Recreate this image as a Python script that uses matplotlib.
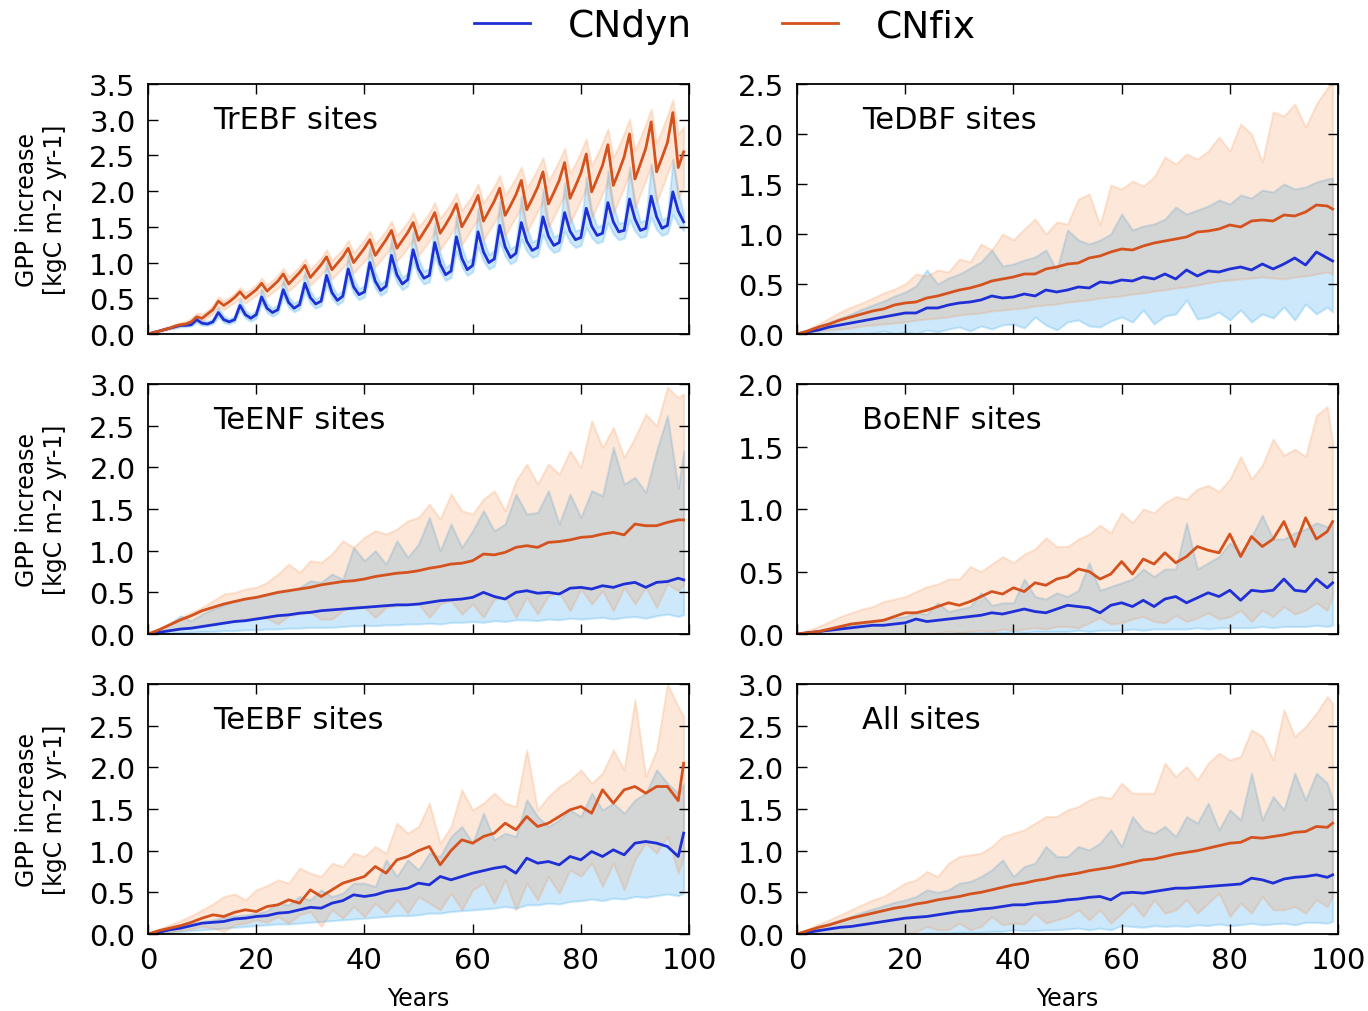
import matplotlib
matplotlib.use("Agg")
import matplotlib.pyplot as plt
from matplotlib.ticker import MultipleLocator, FormatStrFormatter

# ── Years ──────────────────────────────────────────────────────────────────────
yrs_1 = list(range(0, 100))                  # TrEBF (yearly, saw-tooth)
yrs_2 = list(range(0, 100, 2)) + [99]        # other panels, every 2nd year

# ── TrEBF ─────────────────────────────────────────────────────────────────────
tre_fix = [0.00, 0.02, 0.04, 0.06, 0.08, 0.11, 0.13, 0.14, 0.17, 0.24,
           0.22, 0.28, 0.34, 0.46, 0.40, 0.45, 0.51, 0.59, 0.50, 0.56,
           0.62, 0.71, 0.60, 0.67, 0.74, 0.84, 0.70, 0.78, 0.86, 0.96,
           0.79, 0.88, 0.97, 1.08, 0.90, 0.99, 1.08, 1.20, 1.00, 1.10,
           1.20, 1.32, 1.10, 1.21, 1.32, 1.45, 1.20, 1.31, 1.42, 1.56,
           1.31, 1.43, 1.55, 1.70, 1.41, 1.53, 1.66, 1.82, 1.50, 1.63,
           1.77, 1.94, 1.58, 1.72, 1.86, 2.04, 1.66, 1.80, 1.95, 2.15,
           1.74, 1.89, 2.05, 2.27, 1.82, 1.98, 2.15, 2.40, 1.90, 2.07,
           2.25, 2.52, 1.99, 2.17, 2.36, 2.65, 2.08, 2.27, 2.48, 2.80,
           2.17, 2.38, 2.60, 2.97, 2.27, 2.47, 2.68, 3.10, 2.33, 2.55]
tre_fix_hi = [0.00, 0.03, 0.06, 0.09, 0.11, 0.14, 0.16, 0.18, 0.22, 0.29,
              0.28, 0.33, 0.40, 0.52, 0.47, 0.51, 0.57, 0.65, 0.58, 0.63,
              0.69, 0.78, 0.69, 0.75, 0.82, 0.92, 0.80, 0.87, 0.95, 1.05,
              0.91, 0.98, 1.07, 1.18, 1.03, 1.11, 1.19, 1.31, 1.14, 1.23,
              1.32, 1.44, 1.26, 1.35, 1.45, 1.58, 1.38, 1.47, 1.57, 1.70,
              1.50, 1.59, 1.70, 1.84, 1.62, 1.72, 1.83, 1.97, 1.73, 1.84,
              1.95, 2.10, 1.84, 1.95, 2.07, 2.22, 1.95, 2.06, 2.19, 2.34,
              2.05, 2.17, 2.31, 2.47, 2.15, 2.28, 2.43, 2.60, 2.25, 2.39,
              2.55, 2.73, 2.36, 2.51, 2.68, 2.87, 2.47, 2.63, 2.81, 3.01,
              2.58, 2.75, 2.94, 3.15, 2.68, 2.86, 3.06, 3.28, 2.80, 2.90]
tre_fix_lo = [0.00, 0.01, 0.03, 0.05, 0.07, 0.09, 0.11, 0.12, 0.14, 0.19,
              0.18, 0.23, 0.28, 0.38, 0.34, 0.39, 0.44, 0.50, 0.43, 0.49,
              0.54, 0.61, 0.52, 0.58, 0.64, 0.72, 0.60, 0.67, 0.74, 0.82,
              0.68, 0.76, 0.83, 0.92, 0.77, 0.85, 0.93, 1.02, 0.85, 0.94,
              1.02, 1.12, 0.94, 1.03, 1.12, 1.23, 1.02, 1.11, 1.21, 1.32,
              1.10, 1.20, 1.30, 1.43, 1.18, 1.29, 1.40, 1.53, 1.25, 1.37,
              1.49, 1.62, 1.31, 1.44, 1.56, 1.70, 1.37, 1.51, 1.64, 1.78,
              1.43, 1.57, 1.71, 1.86, 1.49, 1.64, 1.79, 1.95, 1.55, 1.71,
              1.87, 2.04, 1.62, 1.79, 1.96, 2.14, 1.69, 1.87, 2.05, 2.25,
              1.76, 1.96, 2.15, 2.36, 1.84, 2.04, 2.24, 2.45, 1.90, 2.05]
tre_dyn = [0.00, 0.02, 0.04, 0.06, 0.08, 0.10, 0.12, 0.12, 0.13, 0.20,
           0.15, 0.14, 0.17, 0.30, 0.20, 0.17, 0.20, 0.40, 0.27, 0.22,
           0.27, 0.52, 0.36, 0.30, 0.34, 0.62, 0.44, 0.36, 0.41, 0.71,
           0.51, 0.42, 0.46, 0.82, 0.58, 0.47, 0.53, 0.91, 0.66, 0.55,
           0.59, 1.00, 0.74, 0.61, 0.67, 1.10, 0.83, 0.70, 0.76, 1.18,
           0.91, 0.78, 0.82, 1.28, 0.98, 0.83, 0.88, 1.36, 1.06, 0.90,
           0.96, 1.43, 1.15, 1.00, 1.05, 1.52, 1.22, 1.07, 1.13, 1.56,
           1.30, 1.17, 1.21, 1.64, 1.37, 1.24, 1.28, 1.70, 1.44, 1.32,
           1.35, 1.76, 1.51, 1.38, 1.41, 1.84, 1.57, 1.43, 1.45, 1.89,
           1.61, 1.45, 1.48, 1.93, 1.64, 1.48, 1.52, 1.99, 1.72, 1.57]
tre_dyn_hi = [0.00, 0.03, 0.05, 0.07, 0.10, 0.12, 0.14, 0.15, 0.16, 0.25,
              0.19, 0.18, 0.21, 0.37, 0.25, 0.21, 0.25, 0.49, 0.33, 0.27,
              0.33, 0.63, 0.43, 0.36, 0.41, 0.76, 0.52, 0.43, 0.48, 0.87,
              0.60, 0.49, 0.54, 1.00, 0.68, 0.55, 0.61, 1.11, 0.77, 0.63,
              0.68, 1.22, 0.86, 0.70, 0.76, 1.34, 0.96, 0.79, 0.86, 1.44,
              1.05, 0.88, 0.92, 1.56, 1.13, 0.93, 0.99, 1.66, 1.22, 1.01,
              1.07, 1.76, 1.32, 1.11, 1.17, 1.86, 1.40, 1.19, 1.25, 1.93,
              1.49, 1.29, 1.33, 2.03, 1.57, 1.36, 1.40, 2.12, 1.65, 1.44,
              1.47, 2.20, 1.73, 1.50, 1.53, 2.29, 1.80, 1.55, 1.57, 2.34,
              1.85, 1.57, 1.60, 2.38, 1.89, 1.60, 1.64, 2.44, 1.98, 1.68]
tre_dyn_lo = [0.00, 0.01, 0.03, 0.05, 0.07, 0.08, 0.10, 0.10, 0.11, 0.16,
              0.12, 0.12, 0.14, 0.24, 0.16, 0.14, 0.17, 0.33, 0.22, 0.18,
              0.22, 0.43, 0.30, 0.25, 0.29, 0.52, 0.37, 0.31, 0.35, 0.59,
              0.43, 0.36, 0.40, 0.69, 0.50, 0.41, 0.46, 0.77, 0.57, 0.48,
              0.52, 0.85, 0.64, 0.54, 0.59, 0.93, 0.72, 0.62, 0.67, 1.01,
              0.80, 0.70, 0.73, 1.09, 0.87, 0.75, 0.79, 1.16, 0.94, 0.82,
              0.87, 1.22, 1.02, 0.91, 0.95, 1.29, 1.09, 0.98, 1.03, 1.33,
              1.16, 1.07, 1.10, 1.39, 1.22, 1.14, 1.17, 1.44, 1.29, 1.21,
              1.24, 1.49, 1.35, 1.27, 1.30, 1.56, 1.40, 1.32, 1.34, 1.60,
              1.44, 1.35, 1.37, 1.63, 1.46, 1.38, 1.41, 1.67, 1.53, 1.45]

# ── TeDBF ─────────────────────────────────────────────────────────────────────
tedbf_fix = [0.00, 0.03, 0.07, 0.10, 0.14, 0.17, 0.20, 0.23, 0.25, 0.29,
             0.31, 0.32, 0.36, 0.38, 0.41, 0.44, 0.46, 0.49, 0.53, 0.55,
             0.57, 0.60, 0.60, 0.65, 0.67, 0.70, 0.71, 0.76, 0.78, 0.82,
             0.85, 0.84, 0.88, 0.91, 0.93, 0.95, 0.97, 1.02, 1.03, 1.05,
             1.09, 1.07, 1.13, 1.14, 1.13, 1.19, 1.18, 1.22, 1.29, 1.28, 1.25]
tedbf_fix_hi = [0.00, 0.05, 0.10, 0.16, 0.22, 0.27, 0.31, 0.36, 0.41, 0.45,
                0.50, 0.60, 0.58, 0.64, 0.62, 0.75, 0.72, 0.90, 0.84, 1.00,
                0.94, 1.05, 1.15, 1.00, 1.12, 1.10, 1.35, 1.40, 1.09, 1.49,
                1.45, 1.53, 1.48, 1.57, 1.77, 1.70, 1.80, 1.75, 1.83, 1.97,
                1.83, 2.10, 2.00, 1.72, 2.22, 2.18, 2.30, 2.07, 2.30, 2.46, 2.52]
tedbf_fix_lo = [0.00, 0.01, 0.03, 0.04, 0.05, 0.06, 0.08, 0.09, 0.10, 0.11,
                0.12, 0.14, 0.15, 0.16, 0.17, 0.19, 0.20, 0.21, 0.23, 0.24,
                0.25, 0.26, 0.28, 0.29, 0.30, 0.32, 0.33, 0.34, 0.36, 0.37,
                0.38, 0.40, 0.41, 0.43, 0.44, 0.46, 0.47, 0.49, 0.51, 0.53,
                0.54, 0.55, 0.56, 0.57, 0.56, 0.55, 0.57, 0.58, 0.60, 0.62, 0.60]
tedbf_dyn = [0.00, 0.02, 0.04, 0.07, 0.09, 0.11, 0.13, 0.15, 0.17, 0.19,
             0.21, 0.21, 0.26, 0.26, 0.29, 0.31, 0.32, 0.34, 0.38, 0.36,
             0.37, 0.40, 0.38, 0.44, 0.42, 0.44, 0.47, 0.46, 0.52, 0.51,
             0.54, 0.53, 0.57, 0.55, 0.60, 0.55, 0.64, 0.58, 0.63, 0.62,
             0.65, 0.67, 0.64, 0.70, 0.65, 0.70, 0.76, 0.69, 0.82, 0.76, 0.73]
tedbf_dyn_hi = [0.00, 0.04, 0.08, 0.12, 0.16, 0.20, 0.25, 0.29, 0.33, 0.38,
                0.42, 0.48, 0.64, 0.50, 0.56, 0.60, 0.66, 0.72, 0.84, 0.68,
                0.70, 0.74, 0.77, 0.84, 0.64, 1.04, 0.94, 0.90, 0.94, 1.00,
                1.20, 1.04, 1.08, 1.10, 1.15, 1.27, 1.20, 1.24, 1.28, 1.34,
                1.30, 1.39, 1.36, 1.44, 1.42, 1.50, 1.45, 1.47, 1.52, 1.55, 1.56]
tedbf_dyn_lo = [0.00, 0.00, 0.00, 0.00, 0.00, 0.00, 0.00, 0.01, 0.03, 0.00,
                0.02, 0.00, 0.04, 0.02, 0.05, 0.07, 0.03, 0.08, 0.05, 0.09,
                0.10, 0.06, 0.17, 0.09, 0.04, 0.12, 0.14, 0.08, 0.07, 0.13,
                0.17, 0.12, 0.24, 0.10, 0.18, 0.20, 0.34, 0.15, 0.17, 0.22,
                0.14, 0.24, 0.12, 0.20, 0.16, 0.27, 0.14, 0.30, 0.20, 0.27, 0.22]

# ── TeENF ─────────────────────────────────────────────────────────────────────
teenf_fix = [0.00, 0.05, 0.11, 0.17, 0.22, 0.28, 0.32, 0.36, 0.39, 0.42,
             0.44, 0.47, 0.50, 0.52, 0.54, 0.56, 0.59, 0.61, 0.63, 0.64,
             0.66, 0.69, 0.71, 0.73, 0.74, 0.76, 0.79, 0.81, 0.84, 0.85,
             0.88, 0.96, 0.95, 0.98, 1.04, 1.06, 1.04, 1.10, 1.11, 1.13,
             1.16, 1.17, 1.20, 1.22, 1.19, 1.32, 1.30, 1.30, 1.34, 1.37, 1.37]
teenf_fix_hi = [0.00, 0.06, 0.13, 0.20, 0.26, 0.32, 0.40, 0.48, 0.50, 0.54,
                0.56, 0.62, 0.72, 0.84, 0.74, 0.88, 0.86, 0.96, 1.12, 1.04,
                1.16, 1.24, 1.20, 1.26, 1.36, 1.40, 1.56, 1.38, 1.68, 1.48,
                1.44, 1.62, 1.72, 1.48, 1.84, 2.04, 1.80, 2.04, 1.92, 2.20,
                2.00, 2.56, 2.24, 2.48, 2.12, 2.36, 2.64, 2.50, 2.96, 2.84, 2.88]
teenf_fix_lo = [0.00, 0.02, 0.04, 0.06, 0.08, 0.10, 0.12, 0.13, 0.16, 0.18,
                0.20, 0.19, 0.12, 0.22, 0.24, 0.26, 0.18, 0.18, 0.28, 0.33,
                0.32, 0.20, 0.32, 0.34, 0.36, 0.36, 0.20, 0.36, 0.40, 0.24,
                0.36, 0.20, 0.42, 0.44, 0.20, 0.44, 0.24, 0.46, 0.50, 0.28,
                0.54, 0.36, 0.52, 0.28, 0.56, 0.36, 0.56, 0.32, 0.60, 0.52, 0.60]
teenf_dyn = [0.00, 0.02, 0.04, 0.06, 0.07, 0.09, 0.11, 0.13, 0.15, 0.16,
             0.18, 0.20, 0.22, 0.23, 0.25, 0.26, 0.28, 0.29, 0.30, 0.31,
             0.32, 0.33, 0.34, 0.35, 0.35, 0.36, 0.38, 0.40, 0.41, 0.42,
             0.44, 0.50, 0.45, 0.42, 0.50, 0.52, 0.49, 0.50, 0.48, 0.55,
             0.56, 0.54, 0.58, 0.56, 0.60, 0.62, 0.56, 0.62, 0.63, 0.67, 0.65]
teenf_dyn_hi = [0.00, 0.05, 0.12, 0.22, 0.16, 0.24, 0.30, 0.35, 0.40, 0.42,
                0.44, 0.47, 0.50, 0.52, 0.56, 0.64, 0.62, 0.72, 0.66, 1.04,
                0.88, 1.00, 0.84, 1.12, 0.92, 1.08, 1.40, 1.00, 1.32, 1.04,
                1.24, 1.48, 1.24, 1.32, 1.68, 1.44, 1.46, 1.72, 1.32, 1.68,
                1.40, 1.72, 1.66, 2.24, 1.80, 1.88, 1.70, 2.20, 2.62, 1.75, 2.20]
teenf_dyn_lo = [0.00, 0.01, 0.01, 0.02, 0.02, 0.03, 0.03, 0.04, 0.04, 0.05,
                0.05, 0.06, 0.06, 0.07, 0.07, 0.08, 0.08, 0.08, 0.09, 0.10,
                0.10, 0.10, 0.11, 0.11, 0.12, 0.12, 0.13, 0.12, 0.14, 0.14,
                0.15, 0.14, 0.16, 0.15, 0.17, 0.17, 0.16, 0.18, 0.17, 0.19,
                0.18, 0.19, 0.20, 0.18, 0.20, 0.21, 0.19, 0.22, 0.24, 0.21, 0.23]

# ── BoENF ─────────────────────────────────────────────────────────────────────
boenf_fix = [0.00, 0.01, 0.02, 0.04, 0.06, 0.08, 0.09, 0.10, 0.11, 0.14,
             0.17, 0.17, 0.19, 0.22, 0.25, 0.23, 0.26, 0.30, 0.34, 0.32,
             0.37, 0.34, 0.41, 0.39, 0.44, 0.46, 0.52, 0.50, 0.44, 0.48,
             0.58, 0.48, 0.60, 0.56, 0.65, 0.57, 0.62, 0.70, 0.67, 0.65,
             0.80, 0.62, 0.78, 0.70, 0.76, 0.90, 0.70, 0.93, 0.76, 0.82, 0.90]
boenf_fix_hi = [0.00, 0.03, 0.06, 0.10, 0.14, 0.17, 0.20, 0.22, 0.26, 0.28,
                0.30, 0.34, 0.38, 0.40, 0.44, 0.44, 0.54, 0.50, 0.56, 0.62,
                0.57, 0.64, 0.68, 0.77, 0.70, 0.70, 0.76, 0.80, 0.87, 0.81,
                0.97, 0.89, 1.00, 0.97, 1.05, 1.10, 1.08, 1.16, 1.19, 1.14,
                1.24, 1.42, 1.24, 1.35, 1.56, 1.43, 1.48, 1.42, 1.75, 1.82, 1.54]
boenf_fix_lo = [0.00, 0.00, 0.00, 0.00, 0.00, 0.00, 0.00, 0.00, 0.00, 0.00,
                0.00, 0.01, 0.00, 0.01, 0.02, 0.01, 0.02, 0.03, 0.02, 0.04,
                0.03, 0.04, 0.05, 0.04, 0.06, 0.06, 0.05, 0.09, 0.13, 0.08,
                0.09, 0.12, 0.14, 0.10, 0.09, 0.15, 0.10, 0.13, 0.17, 0.12,
                0.14, 0.19, 0.10, 0.19, 0.14, 0.22, 0.16, 0.19, 0.25, 0.19, 0.30]
boenf_dyn = [0.00, 0.01, 0.02, 0.03, 0.04, 0.05, 0.06, 0.07, 0.07, 0.08,
             0.09, 0.12, 0.10, 0.11, 0.12, 0.13, 0.14, 0.15, 0.17, 0.16,
             0.18, 0.20, 0.18, 0.17, 0.20, 0.23, 0.22, 0.21, 0.17, 0.23,
             0.25, 0.22, 0.27, 0.22, 0.28, 0.30, 0.25, 0.29, 0.33, 0.30,
             0.35, 0.27, 0.35, 0.34, 0.35, 0.44, 0.35, 0.34, 0.44, 0.37, 0.41]
boenf_dyn_hi = [0.00, 0.01, 0.02, 0.04, 0.05, 0.07, 0.09, 0.10, 0.12, 0.13,
                0.14, 0.17, 0.16, 0.25, 0.18, 0.20, 0.22, 0.33, 0.23, 0.25,
                0.25, 0.44, 0.30, 0.28, 0.33, 0.30, 0.35, 0.57, 0.35, 0.38,
                0.41, 0.44, 0.52, 0.46, 0.52, 0.52, 0.89, 0.52, 0.57, 0.62,
                0.73, 0.65, 0.78, 0.95, 0.76, 0.76, 0.81, 0.84, 0.89, 0.86, 0.89]
boenf_dyn_lo = [0.00, 0.00, 0.00, 0.00, 0.00, 0.00, 0.00, 0.00, 0.00, 0.00,
                0.00, 0.00, 0.00, 0.00, 0.00, 0.01, 0.01, 0.01, 0.01, 0.01,
                0.02, 0.01, 0.02, 0.02, 0.02, 0.02, 0.03, 0.02, 0.03, 0.03,
                0.03, 0.04, 0.03, 0.04, 0.04, 0.04, 0.04, 0.05, 0.04, 0.05,
                0.05, 0.05, 0.05, 0.06, 0.05, 0.06, 0.06, 0.06, 0.07, 0.06, 0.07]

# ── TeEBF ─────────────────────────────────────────────────────────────────────
teebf_fix = [0.00, 0.04, 0.07, 0.10, 0.14, 0.19, 0.23, 0.21, 0.26, 0.29,
             0.27, 0.33, 0.35, 0.41, 0.37, 0.53, 0.45, 0.53, 0.61, 0.65,
             0.69, 0.81, 0.73, 0.89, 0.93, 1.00, 1.05, 0.83, 1.00, 1.13,
             1.09, 1.17, 1.21, 1.33, 1.25, 1.41, 1.29, 1.33, 1.41, 1.49,
             1.53, 1.45, 1.73, 1.57, 1.73, 1.77, 1.69, 1.77, 1.77, 1.60, 2.05]
teebf_fix_hi = [0.00, 0.06, 0.11, 0.16, 0.22, 0.29, 0.36, 0.45, 0.48, 0.41,
                0.53, 0.58, 0.65, 0.61, 0.79, 0.73, 0.69, 0.85, 0.81, 0.97,
                0.93, 1.05, 0.97, 1.33, 1.21, 1.29, 1.57, 1.09, 1.29, 1.73,
                1.49, 1.57, 1.69, 1.57, 1.53, 2.21, 1.49, 1.65, 1.77, 1.85,
                1.97, 1.81, 1.93, 2.21, 1.97, 2.81, 1.89, 2.21, 3.00, 2.73, 2.61]
teebf_fix_lo = [0.00, 0.01, 0.02, 0.04, 0.06, 0.09, 0.07, 0.03, 0.11, 0.13,
                0.17, 0.14, 0.21, 0.13, 0.23, 0.27, 0.09, 0.29, 0.19, 0.33,
                0.21, 0.37, 0.25, 0.41, 0.25, 0.45, 0.37, 0.29, 0.49, 0.29,
                0.53, 0.61, 0.37, 0.65, 0.29, 0.61, 0.41, 0.69, 0.49, 0.77,
                0.69, 0.85, 0.57, 0.85, 0.53, 0.89, 1.09, 0.97, 1.17, 0.73, 0.93]
teebf_dyn = [0.00, 0.02, 0.05, 0.07, 0.10, 0.13, 0.14, 0.15, 0.18, 0.19,
             0.21, 0.22, 0.25, 0.26, 0.29, 0.32, 0.31, 0.37, 0.40, 0.47,
             0.45, 0.47, 0.51, 0.53, 0.55, 0.61, 0.59, 0.69, 0.65, 0.69,
             0.73, 0.76, 0.79, 0.81, 0.73, 0.91, 0.85, 0.87, 0.83, 0.93,
             0.89, 0.99, 0.93, 1.01, 0.95, 1.09, 1.11, 1.09, 1.05, 0.93, 1.21]
teebf_dyn_hi = [0.00, 0.04, 0.07, 0.10, 0.12, 0.15, 0.17, 0.20, 0.22, 0.23,
                0.25, 0.28, 0.37, 0.35, 0.45, 0.41, 0.53, 0.45, 0.49, 0.61,
                0.61, 0.57, 0.89, 0.69, 0.89, 0.77, 0.97, 0.93, 1.17, 1.29,
                1.09, 1.45, 1.13, 1.21, 1.17, 1.61, 1.41, 1.29, 1.37, 1.49,
                1.41, 1.69, 1.49, 1.57, 1.45, 1.61, 1.69, 1.97, 1.81, 1.69, 1.81]
teebf_dyn_lo = [0.00, 0.01, 0.02, 0.03, 0.04, 0.05, 0.06, 0.07, 0.08, 0.09,
                0.10, 0.11, 0.12, 0.12, 0.13, 0.14, 0.15, 0.16, 0.17, 0.18,
                0.19, 0.20, 0.21, 0.22, 0.22, 0.23, 0.25, 0.25, 0.27, 0.28,
                0.29, 0.30, 0.31, 0.33, 0.31, 0.35, 0.35, 0.37, 0.36, 0.39,
                0.40, 0.42, 0.40, 0.43, 0.42, 0.45, 0.44, 0.46, 0.48, 0.46, 0.49]

# ── All sites ─────────────────────────────────────────────────────────────────
all_fix = [0.00, 0.04, 0.08, 0.11, 0.15, 0.19, 0.22, 0.25, 0.28, 0.31,
           0.33, 0.36, 0.38, 0.41, 0.43, 0.45, 0.48, 0.50, 0.53, 0.56,
           0.59, 0.61, 0.64, 0.66, 0.69, 0.71, 0.73, 0.76, 0.78, 0.80,
           0.83, 0.86, 0.89, 0.90, 0.93, 0.96, 0.98, 1.00, 1.03, 1.06,
           1.09, 1.10, 1.16, 1.15, 1.17, 1.19, 1.22, 1.23, 1.29, 1.28, 1.33]
all_fix_hi = [0.00, 0.06, 0.12, 0.17, 0.23, 0.29, 0.35, 0.41, 0.45, 0.53,
              0.61, 0.65, 0.75, 0.69, 0.85, 0.93, 0.95, 0.97, 1.05, 1.17,
              1.21, 1.25, 1.33, 1.41, 1.41, 1.49, 1.53, 1.61, 1.65, 1.63,
              1.81, 1.69, 1.69, 1.69, 2.05, 1.89, 2.01, 1.85, 2.05, 2.17,
              2.09, 2.13, 2.45, 2.37, 2.09, 2.69, 2.37, 2.49, 2.65, 2.85, 2.77]
all_fix_lo = [0.00, 0.00, 0.01, 0.01, 0.02, 0.02, 0.01, 0.01, 0.00, 0.00,
              0.00, 0.03, 0.09, 0.05, 0.05, 0.13, 0.05, 0.09, 0.21, 0.11,
              0.13, 0.12, 0.25, 0.13, 0.17, 0.21, 0.29, 0.17, 0.29, 0.13,
              0.25, 0.37, 0.21, 0.41, 0.25, 0.29, 0.41, 0.25, 0.37, 0.49,
              0.21, 0.37, 0.25, 0.45, 0.29, 0.29, 0.33, 0.25, 0.41, 0.33, 0.45]
all_dyn = [0.00, 0.02, 0.04, 0.06, 0.08, 0.09, 0.11, 0.13, 0.15, 0.17,
           0.19, 0.20, 0.21, 0.23, 0.25, 0.27, 0.28, 0.30, 0.31, 0.33,
           0.35, 0.35, 0.37, 0.38, 0.39, 0.41, 0.42, 0.44, 0.45, 0.41,
           0.49, 0.50, 0.49, 0.51, 0.53, 0.55, 0.55, 0.56, 0.57, 0.58,
           0.59, 0.60, 0.67, 0.65, 0.61, 0.66, 0.68, 0.69, 0.71, 0.68, 0.71]
all_dyn_hi = [0.00, 0.04, 0.09, 0.13, 0.17, 0.21, 0.26, 0.30, 0.34, 0.38,
              0.41, 0.45, 0.53, 0.50, 0.53, 0.61, 0.63, 0.69, 0.77, 0.89,
              0.69, 0.81, 0.85, 1.05, 0.93, 0.93, 1.05, 1.01, 1.09, 1.25,
              1.05, 1.41, 1.25, 1.21, 1.29, 1.17, 1.41, 1.33, 1.57, 1.25,
              1.49, 1.37, 1.93, 1.37, 1.65, 1.49, 1.93, 1.61, 1.93, 1.81, 1.61]
all_dyn_lo = [0.00, 0.00, 0.00, 0.00, 0.00, 0.00, 0.00, 0.00, 0.00, 0.00,
              0.00, 0.00, 0.01, 0.01, 0.01, 0.02, 0.02, 0.02, 0.03, 0.03,
              0.05, 0.04, 0.04, 0.05, 0.05, 0.06, 0.07, 0.05, 0.07, 0.05,
              0.10, 0.09, 0.08, 0.10, 0.09, 0.10, 0.09, 0.11, 0.10, 0.12,
              0.10, 0.11, 0.13, 0.11, 0.12, 0.13, 0.11, 0.14, 0.14, 0.13, 0.15]

# ── Panel setup ───────────────────────────────────────────────────────────────
panels = [
    # title,         years,  dyn, dyn_lo, dyn_hi, fix, fix_lo, fix_hi, ymax
    ("TrEBF sites", yrs_1, tre_dyn, tre_dyn_lo, tre_dyn_hi, tre_fix, tre_fix_lo, tre_fix_hi, 3.5),
    ("TeDBF sites", yrs_2, tedbf_dyn, tedbf_dyn_lo, tedbf_dyn_hi, tedbf_fix, tedbf_fix_lo, tedbf_fix_hi, 2.5),
    ("TeENF sites", yrs_2, teenf_dyn, teenf_dyn_lo, teenf_dyn_hi, teenf_fix, teenf_fix_lo, teenf_fix_hi, 3.0),
    ("BoENF sites", yrs_2, boenf_dyn, boenf_dyn_lo, boenf_dyn_hi, boenf_fix, boenf_fix_lo, boenf_fix_hi, 2.0),
    ("TeEBF sites", yrs_2, teebf_dyn, teebf_dyn_lo, teebf_dyn_hi, teebf_fix, teebf_fix_lo, teebf_fix_hi, 3.0),
    ("All sites",   yrs_2, all_dyn, all_dyn_lo, all_dyn_hi, all_fix, all_fix_lo, all_fix_hi, 3.0),
]

C_DYN_LINE = "#1f2fd6"
C_FIX_LINE = "#d4521e"
C_DYN_FILL = "#37a7ef"
C_FIX_FILL = "#f78b43"

fig = plt.figure(figsize=(13.68, 10.12), dpi=100)

# axes boxes in figure fraction (left, bottom, width, height)
col_left = [0.1082, 0.5826]
row_bottom = [0.669, 0.3725, 0.0761]
ax_w, ax_h = 0.3955, 0.247

handles = None
for i, (title, yrs, dyn, dyn_lo, dyn_hi, fix, fix_lo, fix_hi, ymax) in enumerate(panels):
    r, c = divmod(i, 2)
    ax = fig.add_axes([col_left[c], row_bottom[r], ax_w, ax_h])

    # blue band first, orange band on top -> neutral grey where they overlap
    ax.fill_between(yrs, dyn_lo, dyn_hi, color=C_DYN_FILL, alpha=0.25, lw=1.5)
    ax.fill_between(yrs, fix_lo, fix_hi, color=C_FIX_FILL, alpha=0.2, lw=1.5)
    l_dyn, = ax.plot(yrs, dyn, color=C_DYN_LINE, lw=2)
    l_fix, = ax.plot(yrs, fix, color=C_FIX_LINE, lw=2)
    handles = [l_dyn, l_fix]

    ax.set_xlim(0, 100)
    ax.set_ylim(0, ymax)
    ax.xaxis.set_major_locator(MultipleLocator(20))
    ax.yaxis.set_major_locator(MultipleLocator(0.5))
    ax.yaxis.set_major_formatter(FormatStrFormatter("%.1f"))
    ax.tick_params(direction="in", top=True, right=True, length=7, width=1,
                   labelsize=21, pad=9)
    for sp in ax.spines.values():
        sp.set_linewidth(1.3)

    ax.text(0.12, 0.86, title, transform=ax.transAxes, fontsize=22,
            va="center", ha="left")

    if r < 2:
        ax.tick_params(labelbottom=False)
    else:
        ax.set_xlabel("Years", fontsize=17, labelpad=8)
    if c == 0:
        ax.set_ylabel("GPP increase\n[kgC m-2 yr-1]", fontsize=17, labelpad=16)

fig.legend(handles, ["CNdyn", "CNfix"], loc="center", bbox_to_anchor=(0.53, 0.973),
           ncol=2, frameon=False, fontsize=27, handlelength=1.5,
           handletextpad=1.0, columnspacing=2.4)

fig.savefig("out.png", dpi=100)
